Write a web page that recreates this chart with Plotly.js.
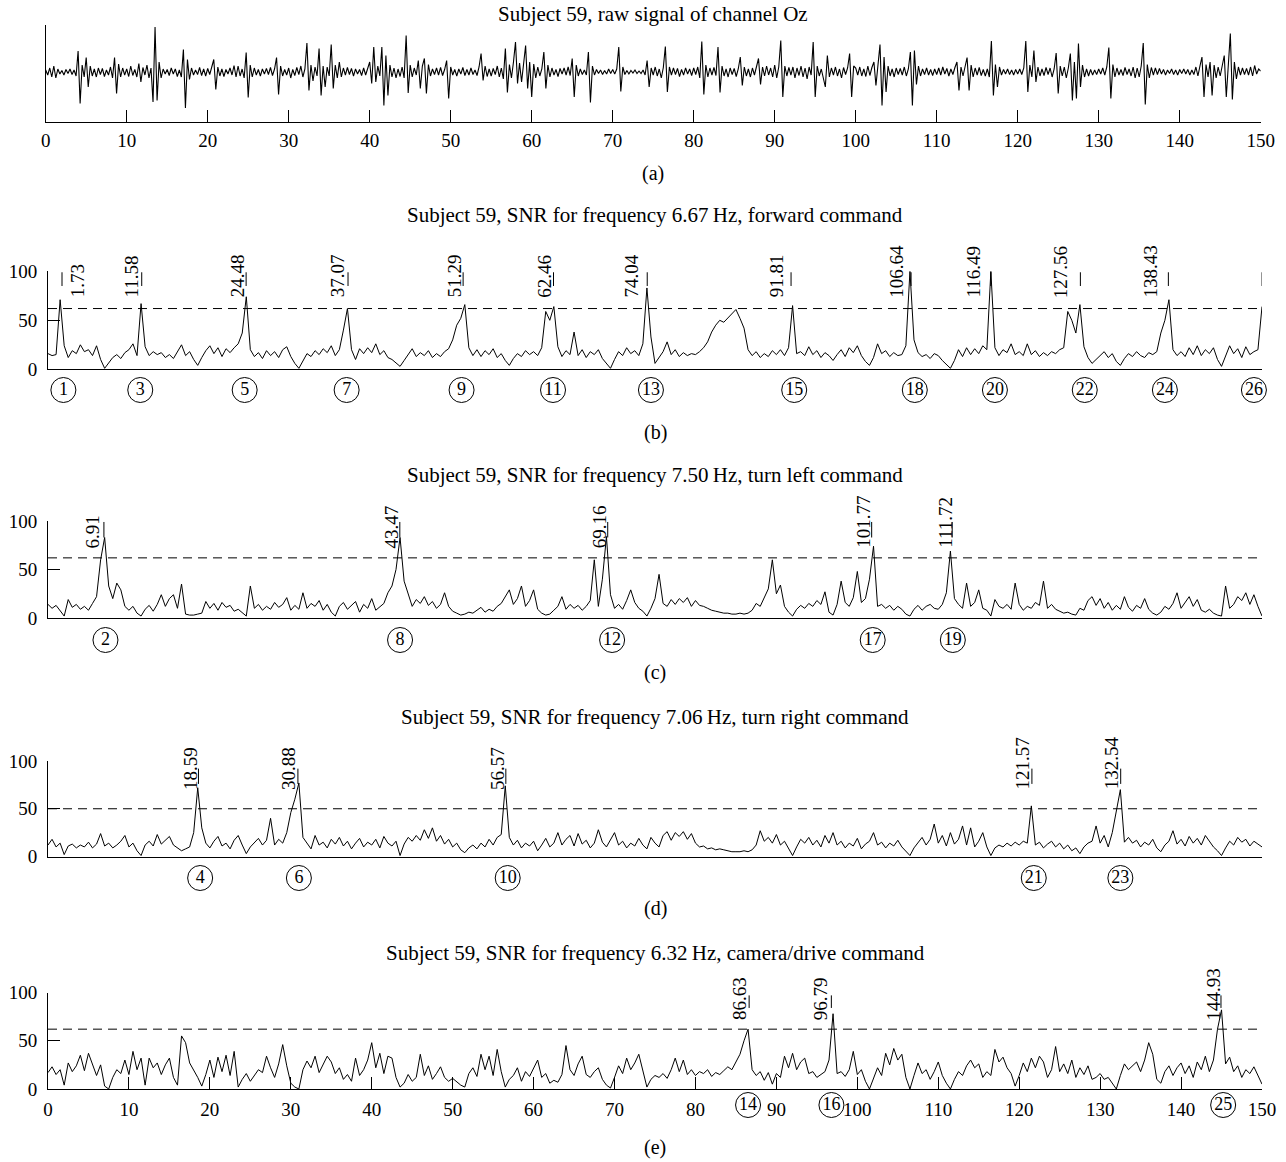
<!DOCTYPE html>
<html><head><meta charset="utf-8">
<script src="https://cdn.plot.ly/plotly-3.0.1.min.js"></script>
<style>html,body{margin:0;padding:0;background:#fff}#chart{width:1286px;height:1162px}</style>
</head><body><div id="chart"></div>
<script>
// ---------------- DATA ----------------
const rawStep = 0.25;   // seconds between raw samples
const snrStep = 0.5;    // seconds between SNR samples

const rawSignal = [
 4,-6,8,-10,12,-12,6,-4,3,-6,5,-3,6,-5,4,-8,42,-63,14,-10,
 29,-30,12,-8,6,-10,8,-5,7,-9,4,-6,10,-12,29,-43,16,-10,8,-6,
 6,-9,12,-7,5,-10,17,-20,9,-6,14,-12,8,-60,90,-57,20,-12,6,-4,
 5,-7,8,-4,6,-9,4,-10,45,-72,25,-15,8,-6,4,-5,9,-7,6,-8,
 7,-5,10,25,-35,10,-8,6,-9,5,-4,8,-6,13,-10,12,-8,6,-12,39,
 -51,14,-10,8,-6,5,-8,6,-4,7,-5,9,-7,6,29,-45,12,-8,5,-6,
 8,-12,5,-7,9,-5,12,-10,6,58,-37,14,-18,10,-8,47,-47,12,-30,10,
 -8,55,-33,14,-12,20,-10,8,-6,9,-5,7,-8,6,-4,5,-7,8,-6,10,
 20,-23,50,-20,12,-8,50,-67,33,-47,14,-10,8,-12,6,-9,10,-12,73,-42,
 14,-10,8,-6,23,-33,12,27,-43,15,-8,6,-5,8,-6,9,-7,5,23,-53,
 10,-6,5,-8,6,-4,9,-7,5,-6,8,-5,4,-7,10,37,-17,12,-9,6,
 -8,7,-5,12,-10,8,-14,47,-41,15,-12,20,60,-23,18,-20,12,53,-33,20,
 -50,16,-12,10,-8,6,40,-33,14,-10,8,-6,5,-9,7,-4,8,-6,10,-7,
 27,-50,14,-8,6,-5,4,-6,40,-61,12,-6,5,-3,4,-5,3,-4,6,-3,
 5,-4,6,50,-39,10,-5,3,-4,3,-2,4,-3,2,-3,4,-6,23,-30,8,
 -6,10,-8,6,-12,9,51,-40,10,-6,8,-5,7,-9,5,-6,8,-4,6,-7,
 8,-5,10,-12,61,-45,14,-10,8,-6,9,-7,50,-41,12,-8,6,-10,8,-5,
 7,-9,6,30,-27,10,-8,6,-10,8,-6,9,27,-25,10,-8,12,-6,8,-10,
 14,-12,10,63,-50,12,-8,9,-6,10,-12,8,-7,12,-10,8,-14,10,-6,60,
 -50,12,-8,6,-10,-30,33,-10,8,-6,10,-8,6,-12,9,-5,8,37,-50,12,
 8,-6,10,-8,6,-9,12,-7,9,20,-27,14,55,-67,30,-40,12,-8,6,-10,
 8,-5,7,-6,10,-8,6,40,-67,43,-25,12,-8,6,-5,8,-6,5,-7,6,
 -5,8,-6,10,-4,7,-8,6,-5,9,20,-37,10,-8,12,29,-37,14,-10,8,
 -6,9,-7,5,-8,6,-10,62,-47,15,-30,10,-6,5,-4,6,-5,4,-6,5,
 -4,6,-5,8,62,-40,14,-10,43,-20,10,-8,6,-7,9,-5,8,-10,6,38,
 -43,12,-8,10,-12,8,37,-57,20,-53,57,-30,14,-10,6,-8,5,-6,4,-5,
 6,-4,8,-6,10,49,-53,15,-10,8,-6,5,-7,9,-5,6,-8,10,-12,8,
 -10,12,58,-65,15,-12,9,-6,8,-5,7,-4,5,-6,4,-3,6,-5,4,-6,
 5,-3,6,-4,5,-6,4,-5,10,-8,12,30,-50,15,-10,20,-47,14,-12,10,
 -8,10,33,-50,12,77,-55,20,-14,10,-6,8,-5,7,-6,10,-8,13,-4,6,
 2
];

const snrForward = [
 16,14,15,71,24,12,19,16,25,18,20,14,24,10,1,6,12,15,11,17,
 20,26,14,67,23,14,18,15,17,12,15,11,18,25,14,18,10,4,12,19,
 24,16,22,13,21,17,22,26,37,74,20,13,17,11,19,14,18,12,20,23,
 13,6,1,8,16,13,19,15,21,17,24,14,20,40,62,20,10,21,16,22,
 17,26,15,19,12,10,6,3,9,15,21,13,17,14,19,12,16,13,18,21,
 30,45,52,66,22,14,20,13,19,15,21,12,16,9,4,11,16,13,19,15,
 18,14,22,59,50,64,23,13,19,15,38,14,20,12,18,15,20,11,6,1,
 10,18,14,22,16,19,14,26,83,33,6,12,18,28,15,20,13,17,14,16,
 15,18,22,28,38,45,50,48,52,57,61,52,42,20,14,18,12,16,13,19,
 15,20,14,22,65,16,18,14,23,15,19,12,17,14,9,15,20,13,22,17,
 24,14,8,4,12,26,16,19,13,17,14,15,24,100,30,17,13,15,11,16,
 14,9,5,1,9,20,13,22,15,21,16,24,20,100,22,14,20,17,26,15,
 18,14,26,15,19,13,17,14,18,16,20,22,59,50,37,66,23,12,6,10,
 14,18,12,16,8,4,11,16,13,18,14,12,17,15,18,37,50,71,20,14,
 18,13,22,15,24,14,20,16,22,10,3,13,24,16,21,12,23,15,18,20,
 64
];
const snrLeft = [
 14,10,13,8,2,19,11,14,9,12,8,15,22,60,83,33,20,36,29,12,
 8,12,5,2,9,13,7,14,24,12,20,24,10,35,4,3,3,4,5,17,
 10,15,8,16,11,13,7,9,5,2,33,10,14,8,12,9,16,11,14,21,
 8,13,9,26,10,15,12,18,8,14,6,2,12,16,9,13,17,6,14,10,
 20,8,12,15,26,33,50,83,38,26,12,19,15,22,13,17,10,14,26,12,
 7,5,3,4,6,5,8,11,6,9,7,12,15,22,29,14,20,33,12,18,
 29,9,5,3,4,8,12,22,9,14,10,13,8,12,18,60,12,40,84,24,
 10,14,9,18,29,16,10,7,2,10,20,45,15,12,19,14,20,16,21,12,
 18,13,12,10,8,7,6,5,5,4,4,5,4,5,8,15,12,22,30,60,
 25,34,12,6,2,9,13,10,15,12,18,14,27,6,3,14,38,16,12,21,
 48,16,20,40,74,12,14,10,13,8,12,9,4,2,9,13,8,12,14,10,
 9,14,26,69,20,14,10,36,12,16,29,10,8,2,19,12,10,14,9,36,
 14,8,12,10,16,13,38,10,14,9,7,5,6,4,3,10,8,18,22,13,
 20,10,16,8,13,9,22,11,7,13,10,20,9,5,3,6,12,9,15,26,
 10,16,22,12,19,8,6,9,5,3,2,33,10,14,22,18,26,14,24,12,
 2
];
const snrRight = [
 12,18,10,14,2,11,13,9,12,10,15,9,13,24,11,14,9,12,16,22,
 10,14,6,1,12,16,11,23,13,17,21,12,9,6,8,10,25,72,30,14,
 9,16,21,11,14,8,17,22,12,3,10,15,19,12,17,40,12,18,14,25,
 46,60,77,20,14,8,22,12,15,9,18,13,20,11,16,8,14,19,10,15,
 12,18,9,21,14,11,16,1,13,20,16,22,17,28,19,30,16,22,13,18,
 10,14,7,4,9,12,8,14,10,18,12,20,23,74,20,12,17,9,14,11,
 16,6,12,19,10,14,25,12,18,22,11,24,13,17,9,14,28,15,10,18,
 25,12,16,9,14,11,19,12,8,20,14,10,22,26,17,25,21,26,18,24,
 14,10,11,8,9,7,8,7,6,5,5,5,6,5,7,12,27,16,20,14,
 23,12,16,9,1,10,18,14,20,12,17,10,22,14,25,12,16,9,14,11,
 19,8,13,16,25,12,15,9,14,11,17,10,6,1,9,15,20,12,18,34,
 14,22,11,25,13,18,32,12,30,10,16,25,10,1,9,12,10,14,11,15,
 12,16,14,53,12,15,9,13,16,10,14,8,12,6,9,3,10,14,16,32,
 14,22,10,25,46,70,15,20,14,17,10,15,12,18,9,5,12,16,27,13,
 18,11,21,14,19,12,22,16,10,6,1,9,16,12,20,15,18,11,16,13,
 10
];
const snrCamera = [
 17,23,15,20,4,27,18,24,35,19,37,26,14,25,3,0,12,20,16,30,
 15,39,20,32,4,32,22,27,15,25,32,12,4,55,48,27,20,12,3,15,
 30,12,33,18,35,14,39,2,10,16,8,14,20,17,34,22,12,26,46,24,
 6,2,0,20,29,22,34,17,25,34,28,16,22,10,15,8,32,14,20,30,
 48,22,37,16,34,32,12,2,6,15,8,12,36,14,24,10,16,23,12,8,
 11,7,4,2,16,22,13,36,20,34,14,41,18,2,10,14,22,8,18,13,
 22,30,12,16,6,9,7,15,45,20,14,26,34,15,12,18,22,10,4,1,
 12,24,16,32,20,27,36,18,2,10,14,12,16,11,20,32,18,30,15,20,
 14,18,16,20,13,17,15,19,23,20,28,36,50,62,20,14,18,9,17,5,
 16,12,34,22,37,20,28,32,16,18,12,15,18,30,78,16,18,13,20,39,
 15,20,8,0,12,22,14,37,25,42,30,36,12,0,14,27,16,20,10,18,
 28,14,6,0,10,18,14,24,30,22,26,12,18,14,41,28,33,22,16,3,
 14,27,18,32,22,34,28,12,20,44,18,26,16,30,12,22,15,24,10,12,
 16,10,12,6,0,14,26,20,24,28,18,30,48,36,10,6,18,24,14,22,
 27,16,24,12,28,20,34,18,30,62,82,26,33,18,24,12,20,16,23,14,
 5
];

// detected peak times (labels) and the circled command numbers under them
const peaksForward = [1.73, 11.58, 24.48, 37.07, 51.29, 62.46, 74.04, 91.81, 106.64, 116.49, 127.56, 138.43, 150.01];
const idsForward   = [1, 3, 5, 7, 9, 11, 13, 15, 18, 20, 22, 24, 26];
const circlesForward = [1.9, 11.4, 24.3, 36.9, 51.1, 62.4, 74.5, 92.2, 107.1, 117.0, 128.1, 138.0, 149.0];
const peaksLeft    = [6.91, 43.47, 69.16, 101.77, 111.72];
const idsLeft      = [2, 8, 12, 17, 19];
const circlesLeft  = [7.1, 43.5, 69.7, 101.9, 111.8];
const peaksRight   = [18.59, 30.88, 56.57, 121.57, 132.54];
const idsRight     = [4, 6, 10, 21, 23];
const circlesRight = [18.8, 31.0, 56.8, 121.8, 132.5];
const peaksCamera  = [86.63, 96.79, 144.93];
const idsCamera    = [14, 16, 25];
const circlesCamera = [86.5, 96.8, 145.2];

const thresholdForward = 62;
const thresholdLeft = 62;
const thresholdRight = 50;
const thresholdCamera = 62;

const panelTitles = [
 'Subject 59, raw signal of channel Oz',
 'Subject 59, SNR for frequency 6.67\u2009Hz, forward command',
 'Subject 59, SNR for frequency 7.50\u2009Hz, turn left command',
 'Subject 59, SNR for frequency 7.06\u2009Hz, turn right command',
 'Subject 59, SNR for frequency 6.32\u2009Hz, camera/drive command'
];
const panelLetters = ['(a)', '(b)', '(c)', '(d)', '(e)'];
const xTickVals = [0,10,20,30,40,50,60,70,80,90,100,110,120,130,140,150];
const yTickVals = [0, 50, 100];

// ---------------- STYLE / LAYOUT ----------------
const W = 1286, H = 1162;
const FONT = 'Liberation Serif, Times New Roman, serif';
const px = v => v / W;
const py = v => 1 - v / H;

const geom = [
 {x0:45.7, x1:1260.7, yTop:25,    yBot:122,   title:14,  letter:173},
 {x0:48,   x1:1262,   yTop:271.3, yBot:369.3, title:215, letter:432, circle:390},
 {x0:48,   x1:1262,   yTop:521,   yBot:618,   title:475, letter:672, circle:640},
 {x0:48,   x1:1262,   yTop:761,   yBot:856.5, title:717, letter:908, circle:878},
 {x0:48,   x1:1262,   yTop:992.5, yBot:1089,  title:953, letter:1147, circle:1105}
];

const snrPanels = [
 {vals: snrForward, peaks: peaksForward, ids: idsForward, circles: circlesForward, thr: thresholdForward,
  labelY: 72, barLo: 85, barHi: 99,
  shifts: [15,-10,-9,-11,-9,-9,-16,-15,-14.5,-17,-20,-17.5,-11]},
 {vals: snrLeft, peaks: peaksLeft, ids: idsLeft, circles: circlesLeft, thr: thresholdLeft,
  labelY: 71, barLo: 83, barHi: 99,
  shifts: [-11,-8,-8,-9,-7]},
 {vals: snrRight, peaks: peaksRight, ids: idsRight, circles: circlesRight, thr: thresholdRight,
  labelY: 69, barLo: 76, barHi: 92,
  shifts: [-8.5,-10,-9,-9,-9.5]},
 {vals: snrCamera, peaks: peaksCamera, ids: idsCamera, circles: circlesCamera, thr: thresholdCamera,
  labelY: 70, barLo: 84, barHi: 97,
  shifts: [-9,-10,-8]}
];

const black = '#000';
const traces = [];
const annotations = [];
const layout = {
  width: W, height: H,
  margin: {l:0, r:0, t:0, b:0, pad:0},
  paper_bgcolor: '#fff', plot_bgcolor: 'rgba(0,0,0,0)',
  showlegend: false,
  font: {family: FONT, size: 19, color: black}
};

// Panel (a): raw signal
traces.push({
  type: 'scatter', mode: 'lines', xaxis: 'x', yaxis: 'y',
  x: rawSignal.map((_, i) => i * rawStep), y: rawSignal,
  line: {color: black, width: 1.1}, hoverinfo: 'skip'
});
layout.xaxis = {
  domain: [px(geom[0].x0), px(geom[0].x1)], anchor: 'y', range: [0, 150],
  showline: true, linecolor: black, linewidth: 1, mirror: false,
  ticks: 'inside', ticklen: 12, tickwidth: 1, tickcolor: black,
  tickvals: xTickVals, ticktext: xTickVals.map(String),
  tickfont: {family: FONT, size: 19, color: black}, ticklabelstandoff: 1,
  showgrid: false, zeroline: false, fixedrange: true
};
layout.yaxis = {
  domain: [py(geom[0].yBot), py(geom[0].yTop)], anchor: 'x', range: [-100, 94],
  showline: true, linecolor: black, linewidth: 1, ticks: '', showticklabels: false,
  showgrid: false, zeroline: false, fixedrange: true
};

snrPanels.forEach((p, k) => {
  const n = k + 2;
  const g = geom[n - 1];
  const xa = 'x' + n, ya = 'y' + n;
  const ca = 'y' + (n + 4);           // helper axis for the circled numbers row
  const isLast = (n === 5);
  traces.push({
    type: 'scatter', mode: 'lines', xaxis: xa, yaxis: ya,
    x: p.vals.map((_, i) => i * snrStep), y: p.vals,
    line: {color: black, width: 1}, hoverinfo: 'skip'
  });
  traces.push({
    type: 'scatter', mode: 'lines', xaxis: xa, yaxis: ya,
    x: [0, 150], y: [p.thr, p.thr],
    line: {color: black, width: 1, dash: '9px,6px'}, hoverinfo: 'skip'
  });
  const bx = [], by = [];
  p.peaks.forEach(t => { bx.push(t, t, null); by.push(p.barLo, p.barHi, null); });
  traces.push({
    type: 'scatter', mode: 'lines', xaxis: xa, yaxis: ya, x: bx, y: by,
    line: {color: black, width: 1}, cliponaxis: false, hoverinfo: 'skip'
  });
  traces.push({
    type: 'scatter', mode: 'markers+text', xaxis: xa, yaxis: ca,
    x: p.circles, y: p.circles.map(() => 0),
    text: p.ids.map(String), textposition: 'middle center',
    textfont: {family: FONT, size: 18, color: black},
    marker: {symbol: 'circle-open', size: 25, color: black, line: {width: 1, color: black}},
    cliponaxis: false, hoverinfo: 'skip'
  });
  p.peaks.forEach((t, i) => {
    annotations.push({
      xref: xa, yref: ya, x: t, y: p.labelY, text: t.toFixed(2),
      textangle: -90, showarrow: false, xanchor: 'center', yanchor: 'bottom',
      xshift: p.shifts[i], borderpad: 0,
      font: {family: FONT, size: 19, color: black}
    });
  });
  layout['xaxis' + n] = {
    domain: [px(g.x0), px(g.x1)], anchor: ya, range: [0, 150],
    showline: true, linecolor: black, linewidth: 1,
    ticks: isLast ? 'inside' : '', ticklen: 12, tickwidth: 1, tickcolor: black,
    tickvals: xTickVals, ticktext: xTickVals.map(String),
    showticklabels: isLast, tickfont: {family: FONT, size: 19, color: black},
    ticklabelstandoff: 3,
    showgrid: false, zeroline: false, fixedrange: true
  };
  layout['yaxis' + n] = {
    domain: [py(g.yBot), py(g.yTop)], anchor: xa, range: [0, 100],
    showline: true, linecolor: black, linewidth: 1,
    ticks: 'inside', ticklen: 12, tickwidth: 1, tickcolor: black,
    tickvals: yTickVals, ticktext: yTickVals.map(String),
    tickfont: {family: FONT, size: 19, color: black}, ticklabelstandoff: 6,
    showgrid: false, zeroline: false, fixedrange: true
  };
  layout['yaxis' + (n + 4)] = {
    domain: [py(g.circle + 16), py(g.circle - 16)], anchor: xa, range: [-1, 1],
    visible: false, fixedrange: true
  };
});

geom.forEach((g, i) => {
  const cx = px((g.x0 + g.x1) / 2);
  annotations.push({xref: 'paper', yref: 'paper', x: cx, y: py(g.title),
    xanchor: 'center', yanchor: 'middle', showarrow: false, text: panelTitles[i],
    font: {family: FONT, size: 21, color: black}});
  annotations.push({xref: 'paper', yref: 'paper', x: cx, y: py(g.letter),
    xanchor: 'center', yanchor: 'middle', showarrow: false, text: panelLetters[i],
    font: {family: FONT, size: 20, color: black}});
});
layout.annotations = annotations;

Plotly.newPlot('chart', traces, layout, {staticPlot: true, displayModeBar: false});
</script>
</body></html>
